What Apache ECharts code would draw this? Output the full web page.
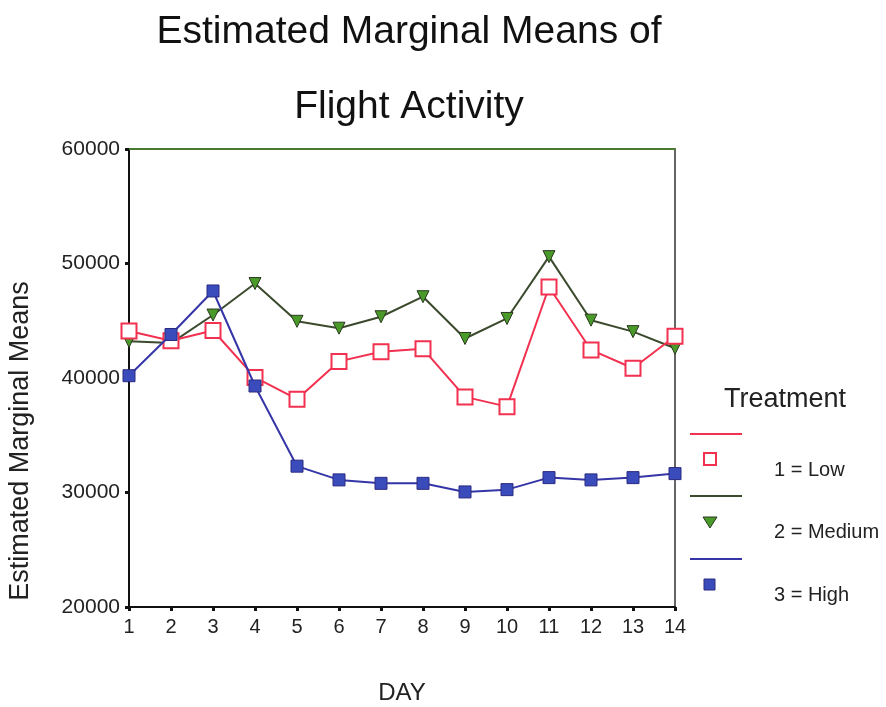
<!DOCTYPE html>
<html><head><meta charset="utf-8">
<script src="https://cdn.jsdelivr.net/npm/echarts@6/dist/echarts.min.js"></script>
<style>html,body{margin:0;padding:0;background:#fff}#c{width:886px;height:707px}</style>
</head><body><div id="c"></div>
<script>
const days = ['1','2','3','4','5','6','7','8','9','10','11','12','13','14'];
const lowValues    = [44100, 43250, 44150, 40050, 38150, 41450, 42300, 42550, 38350, 37500, 47950, 42450, 40850, 43650];
const mediumValues = [43200, 43050, 45500, 48250, 44950, 44350, 45350, 47100, 43450, 45200, 50600, 45050, 44050, 42600];
const highValues   = [40200, 43800, 47600, 39300, 32300, 31100, 30800, 30800, 30050, 30250, 31300, 31100, 31300, 31650];
const yTicks = [20000, 30000, 40000, 50000, 60000];
const seriesNames = ['1 = Low', '2 = Medium', '3 = High'];
const titleLines = ['Estimated Marginal Means of', 'Flight Activity'];
const legendTitle = 'Treatment';
const yAxisName = 'Estimated Marginal Means';
const xAxisName = 'DAY';

const FONT = 'Liberation Sans, Arial, sans-serif';
const RED = '#f2304f', GREEN_LINE = '#3b4a2c', GREEN = '#4a9a2a', BLUE = '#3535a8', BLUE_FILL = '#3a4cbc';

const chart = echarts.init(document.getElementById('c'), null, {renderer: 'canvas'});

const legendX = 690;
const legendItems = [
  {y: 434, color: RED},
  {y: 496, color: GREEN_LINE},
  {y: 559, color: BLUE}
];
const graphics = [
  {type: 'text', x: 21, y: 441, rotation: Math.PI / 2, style: {text: yAxisName, font: '27px ' + FONT, fill: '#222', textAlign: 'center', textVerticalAlign: 'middle'}},
  {type: 'text', x: 785, y: 400, style: {text: legendTitle, font: '27px ' + FONT, fill: '#222', textAlign: 'center', textVerticalAlign: 'middle'}}
];
legendItems.forEach((it, i) => {
  graphics.push({type: 'line', shape: {x1: legendX, y1: it.y, x2: legendX + 52, y2: it.y}, style: {stroke: it.color, lineWidth: 2}});
  graphics.push({type: 'text', x: 774, y: it.y + 36, style: {text: seriesNames[i], font: '20px ' + FONT, fill: '#222', textVerticalAlign: 'middle'}});
});
graphics.push({type: 'rect', shape: {x: 704, y: 453, width: 12, height: 12}, style: {fill: '#fff', stroke: RED, lineWidth: 2}});
graphics.push({type: 'polygon', shape: {points: [[703, 517], [717, 517], [710, 528]]}, style: {fill: GREEN, stroke: '#2a3a20', lineWidth: 1}});
graphics.push({type: 'rect', shape: {x: 704, y: 579, width: 11, height: 11}, style: {fill: BLUE_FILL, stroke: '#2a2a80', lineWidth: 1}});

chart.setOption({
  backgroundColor: '#fff',
  animation: false,
  textStyle: {fontFamily: FONT},
  title: [
    {text: titleLines[0], left: 404, top: 8, textAlign: 'center', textStyle: {fontFamily: FONT, fontSize: 39, fontWeight: 'normal', color: '#111'}},
    {text: titleLines[1], left: 404, top: 83, textAlign: 'center', textStyle: {fontFamily: FONT, fontSize: 39, fontWeight: 'normal', color: '#111'}}
  ],
  grid: {left: 129, right: 211, top: 149, bottom: 100, containLabel: false, outerBoundsMode: 'none', show: true, borderColor: '#333', borderWidth: 1.5},
  xAxis: [{
    type: 'category', data: days, boundaryGap: false, position: 'bottom',
    name: xAxisName, nameLocation: 'middle', nameGap: 74,
    nameTextStyle: {fontSize: 24, color: '#222', fontFamily: FONT},
    axisLine: {lineStyle: {color: '#111', width: 2}},
    axisTick: {show: true, length: 4, inside: false, alignWithLabel: true, lineStyle: {color: '#111', width: 3}},
    axisLabel: {fontSize: 20, color: '#222', margin: 10, fontFamily: FONT},
    splitLine: {show: false}
  }, {
    type: 'category', data: days, boundaryGap: false, position: 'top',
    axisLine: {lineStyle: {color: '#4a7a30', width: 2}},
    axisTick: {show: false}, axisLabel: {show: false}, splitLine: {show: false}
  }],
  yAxis: {
    type: 'value', min: yTicks[0], max: yTicks[yTicks.length - 1], interval: yTicks[1] - yTicks[0],
    axisLine: {show: true, lineStyle: {color: '#111', width: 2}},
    axisTick: {show: true, length: 4, lineStyle: {color: '#111', width: 3}},
    axisLabel: {fontSize: 21, color: '#222', margin: 9, fontFamily: FONT, formatter: v => String(v)},
    splitLine: {show: false}
  },
  series: [
    {name: seriesNames[1], type: 'line', data: mediumValues, symbol: 'triangle', symbolRotate: 180, symbolSize: 12,
      lineStyle: {color: GREEN_LINE, width: 2}, itemStyle: {color: GREEN, borderColor: '#2a3a20', borderWidth: 1}, z: 2},
    {name: seriesNames[0], type: 'line', data: lowValues, symbol: 'rect', symbolSize: 15,
      lineStyle: {color: RED, width: 2}, itemStyle: {color: '#fff', borderColor: RED, borderWidth: 2}, z: 3},
    {name: seriesNames[2], type: 'line', data: highValues, symbol: 'rect', symbolSize: 12,
      lineStyle: {color: BLUE, width: 2}, itemStyle: {color: BLUE_FILL, borderColor: '#2a2a80', borderWidth: 1}, z: 4}
  ],
  graphic: graphics
});
</script></body></html>
